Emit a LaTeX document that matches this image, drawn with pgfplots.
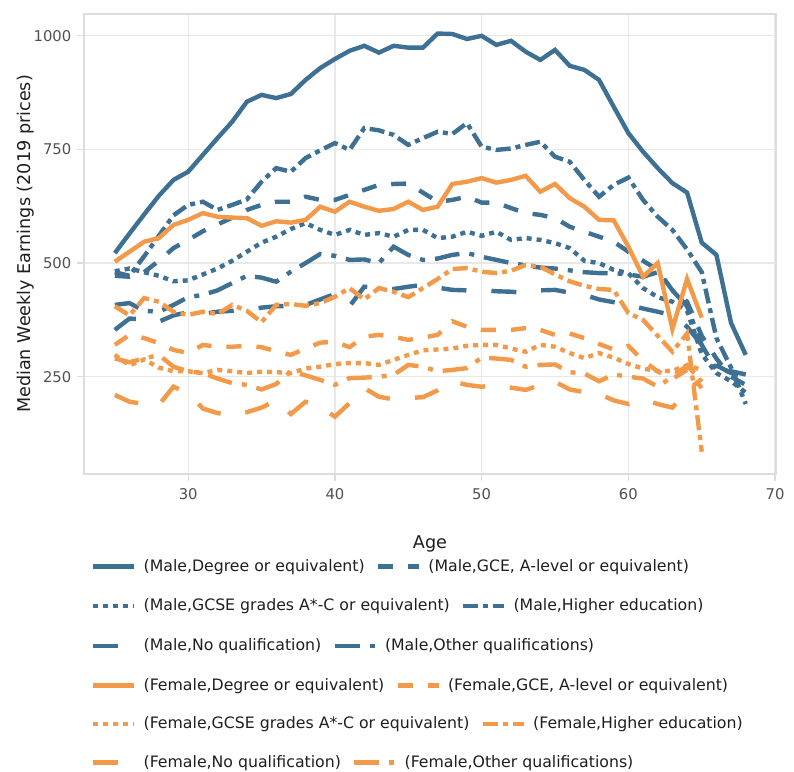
\documentclass[border=0pt]{standalone}
\usepackage{pgfplots}
\pgfplotsset{compat=1.18}
\usepackage{pgfplotstable}
\usepackage{fontspec}
\setmainfont{DejaVu Sans}
\definecolor{cblue}{RGB}{61,112,146}
\definecolor{corange}{RGB}{242,153,74}
\definecolor{gridc}{RGB}{232,232,232}
\definecolor{framec}{RGB}{220,220,220}
\definecolor{tickc}{RGB}{80,80,80}
\definecolor{labc}{RGB}{30,30,30}

\pgfplotstableread{
age md mg ms mh mn mo fd fg fs fh fn fo
25 522 472 482 480 353 408 503 320 298 405 210 290
26 565 470 488 472 378 412 525 342 275 385 195 282
27 607 480 480 515 376 395 547 335 288 423 190 290
28 648 505 472 560 371 393 555 324 270 415 188 298
29 683 533 460 605 385 408 584 309 262 393 228 272
30 701 551 462 628 392 425 595 302 262 386 214 262
31 738 570 475 635 388 430 610 320 258 393 180 258
32 775 585 488 617 393 440 602 316 265 388 170 246
33 811 600 505 628 395 456 600 316 262 408 165 236
34 855 617 525 640 397 472 599 318 258 395 172 232
35 870 628 545 679 402 468 582 315 261 370 182 222
36 863 635 558 709 405 459 592 306 260 408 198 234
37 872 635 575 701 406 481 589 298 258 410 168 262
38 903 646 588 731 408 500 595 312 268 406 195 253
39 929 639 573 748 420 520 624 325 272 412 184 243
40 949 639 562 764 432 516 613 327 278 426 162 232
41 967 650 573 749 405 507 635 315 280 445 192 247
42 978 661 562 797 448 508 624 338 280 420 225 248
43 963 672 566 792 445 500 615 342 276 445 206 250
44 978 674 558 782 443 536 619 338 287 437 200 254
45 974 675 573 760 448 518 635 331 298 425 203 276
46 974 655 573 775 452 507 617 336 308 445 205 272
47 1005 635 555 789 446 510 624 342 310 465 220 262
48 1004 639 558 784 441 518 674 372 312 487 240 265
49 993 646 569 808 440 522 679 360 318 489 232 269
50 1000 633 560 756 441 514 687 353 320 481 228 292
51 980 633 569 749 438 507 677 353 320 478 232 290
52 989 621 551 752 437 500 683 353 312 483 226 287
53 965 610 555 760 434 495 692 357 305 496 221 272
54 947 606 551 767 440 490 657 353 320 492 232 276
55 969 599 544 734 441 488 674 342 316 475 239 277
56 934 580 533 723 435 484 643 345 302 460 222 260
57 925 569 505 683 430 480 624 335 291 450 216 257
58 903 558 500 646 420 478 595 322 302 443 212 240
59 844 547 485 672 414 478 594 310 292 441 198 255
60 786 525 478 688 408 475 536 318 278 390 190 250
61 745 505 445 639 400 470 470 285 268 375 200 246
62 709 485 425 602 393 480 500 262 262 340 190 228
63 676 440 415 573 385 440 355 245 263 305 182 250
64 655 415 395 530 360 405 465 265 275 345 220 275
65 545 340 300 480 320 320 380 225 265 85 245 240
66 518 290 258 335 275 265 nan nan nan nan nan nan
67 368 250 240 270 258 262 nan nan nan nan nan nan
68 298 232 215 190 250 255 nan nan nan nan nan nan
}\datatable

\newcommand{\tickfont}{\fontsize{11.1}{13}\selectfont}
\newcommand{\labfont}{\fontsize{13.2}{15}\selectfont}
\newcommand{\legfont}{\fontsize{11.8}{14}\selectfont}

\pgfplotsset{
  sM/.style={color=cblue, line width=3.3pt, no markers},
  sF/.style={color=corange, line width=3.3pt, no markers},
  pSolid/.style={solid},
  pDash/.style={dash pattern=on 11.25pt off 11.25pt},
  pDot/.style={dash pattern=on 3.75pt off 3.75pt},
  pDashDot/.style={dash pattern=on 11.25pt off 3.75pt on 3.75pt off 3.75pt},
  pLongDash/.style={dash pattern=on 18.75pt off 18.75pt},
  pLongDashDot/.style={dash pattern=on 18.75pt off 7.5pt on 3.75pt off 7.5pt},
  legend image code/.code={\draw[#1] (0pt,0pt) -- (30.75pt,0pt);},
}

\newcommand{\legendrow}[5]{%
\begin{axis}[hide axis, scale only axis, width=5pt, height=5pt,
  xmin=0, xmax=1, ymin=0, ymax=1,
  at={(68.25pt,#1)}, anchor=west,
  legend columns=2, legend cell align=left,
  legend style={at={(0,0.5)}, anchor=west, draw=none, fill=none,
    inner sep=0pt, font=\legfont, text=labc,
    nodes={inner sep=0pt},
    /tikz/every odd column/.append style={column sep=5.25pt},
    /tikz/every even column/.append style={column sep=8.5pt}}]
\addlegendimage{#2}\addlegendentry{#3}
\addlegendimage{#4}\addlegendentry{#5}
\end{axis}}

\begin{document}
\begin{tikzpicture}
\path[use as bounding box] (0pt,0pt) rectangle (595.5pt,579pt);
\begin{axis}[
  at={(63pt,223.5pt)}, anchor=south west,
  scale only axis, width=519pt, height=345pt,
  xmin=22.9, xmax=70.06, ymin=36, ymax=1048,
  xtick={30,40,50,60,70}, ytick={250,500,750,1000},
  grid=major, major grid style={draw=gridc, line width=1pt},
  axis line style={draw=framec, line width=1.2pt},
  tick pos=left, tick align=outside, major tick length=5pt,
  tick style={draw=framec, line width=1pt},
  tick label style={font=\tickfont, text=tickc},
  /pgf/number format/assume math mode=true,
  /pgf/number format/1000 sep={},
  xticklabel style={yshift=-2pt},
  yticklabel style={xshift=-1pt},
  xlabel={Age}, ylabel={Median Weekly Earnings (2019 prices)},
  every axis x label/.style={at={(axis description cs:0.5,-0.1609)}, anchor=base, font=\labfont, text=labc},
  every axis y label/.style={at={(axis description cs:-0.0773,0.5)}, rotate=90, anchor=base, font=\labfont, text=labc},
]
\addplot[sM,pSolid] table[x=age,y=md] {\datatable};
\addplot[sM,pDash] table[x=age,y=mg] {\datatable};
\addplot[sM,pDot] table[x=age,y=ms] {\datatable};
\addplot[sM,pDashDot] table[x=age,y=mh] {\datatable};
\addplot[sM,pLongDash] table[x=age,y=mn] {\datatable};
\addplot[sM,pLongDashDot] table[x=age,y=mo] {\datatable};
\addplot[sF,pSolid] table[x=age,y=fd] {\datatable};
\addplot[sF,pDash] table[x=age,y=fg] {\datatable};
\addplot[sF,pDot] table[x=age,y=fs] {\datatable};
\addplot[sF,pDashDot] table[x=age,y=fh] {\datatable};
\addplot[sF,pLongDash] table[x=age,y=fn] {\datatable};
\addplot[sF,pLongDashDot] table[x=age,y=fo] {\datatable};
\end{axis}
\legendrow{153.975pt}{sM,pSolid}{(Male,Degree or equivalent)}{sM,pDash}{(Male,GCE, A-level or equivalent)}
\legendrow{124.5pt}{sM,pDot}{(Male,GCSE grades A*-C or equivalent)}{sM,pDashDot}{(Male,Higher education)}
\legendrow{94.5pt}{sM,pLongDash}{(Male,No qualification)}{sM,pLongDashDot}{(Male,Other qualifications)}
\legendrow{65pt}{sF,pSolid}{(Female,Degree or equivalent)}{sF,pDash}{(Female,GCE, A-level or equivalent)}
\legendrow{36pt}{sF,pDot}{(Female,GCSE grades A*-C or equivalent)}{sF,pDashDot}{(Female,Higher education)}
\legendrow{7pt}{sF,pLongDash}{(Female,No qualification)}{sF,pLongDashDot}{(Female,Other qualifications)}
\end{tikzpicture}
\end{document}
